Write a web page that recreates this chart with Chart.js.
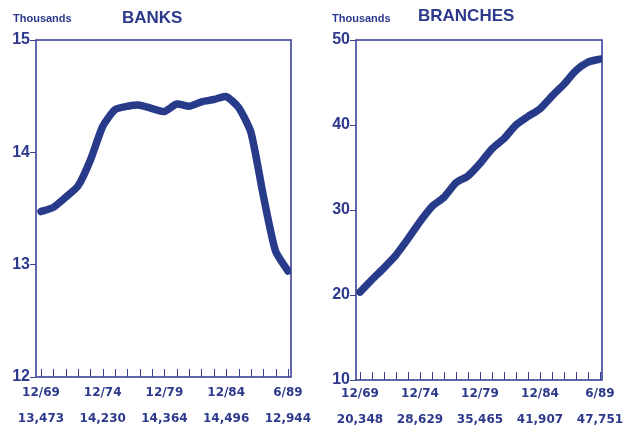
<!DOCTYPE html>
<html><head><meta charset="utf-8">
<script src="https://cdn.jsdelivr.net/npm/chart.js@4"></script>
<style>
html,body{margin:0;padding:0;background:#fff;width:623px;height:429px;overflow:hidden;}
.wrap{position:absolute;top:0;height:429px;}
#w1{left:0;width:311px;}
#w2{left:311px;width:312px;}
.lbl{position:absolute;font-family:"Liberation Sans",Arial,sans-serif;font-weight:bold;color:#2d3a8c;white-space:nowrap;line-height:1;}
</style></head><body>
<div class="wrap" id="w1"><canvas id="c1"></canvas></div>
<div class="wrap" id="w2"><canvas id="c2"></canvas></div>
<div class="lbl" style="left:13px;top:13px;font-size:11px;">Thousands</div>
<div class="lbl" style="left:122px;top:9px;font-size:17px;">BANKS</div>
<div class="lbl" style="left:332px;top:13px;font-size:11px;">Thousands</div>
<div class="lbl" style="left:418px;top:7px;font-size:17px;">BRANCHES</div>
<script>
const periods = ['12/69','12/70','12/71','12/72','12/73','12/74','12/75','12/76','12/77','12/78','12/79','12/80','12/81','12/82','12/83','12/84','12/85','12/86','12/87','12/88','6/89'];
const banks = [13.473, 13.51, 13.60, 13.70, 13.93, 14.23, 14.38, 14.41, 14.42, 14.39, 14.364, 14.43, 14.41, 14.45, 14.47, 14.496, 14.40, 14.18, 13.62, 13.12, 12.944];
const branches = [20.348, 21.8, 23.2, 24.7, 26.6, 28.629, 30.4, 31.5, 33.2, 34.0, 35.465, 37.2, 38.4, 40.0, 41.0, 41.907, 43.4, 44.8, 46.4, 47.4, 47.751];
const dateLabels = ['12/69','12/74','12/79','12/84','6/89'];
const labelIndex = [0,5,10,15,20];
const banksLabels = ['13,473','14,230','14,364','14,496','12,944'];
const branchesLabels = ['20,348','28,629','35,465','41,907','47,751'];

const NAVY = '#2d3a8c';
const FRAME = '#3b4296';
const FONT = '"Liberation Sans", Arial, sans-serif';
const XFONT = '"DejaVu Sans", "Liberation Sans", sans-serif';

const framePlugin = {
  id: 'frame',
  beforeDatasetsDraw(chart) {
    const {ctx, chartArea: a, scales: {x}} = chart;
    ctx.save();
    ctx.strokeStyle = FRAME;
    ctx.lineWidth = 1.6;
    ctx.strokeRect(a.left, a.top, a.right - a.left, a.bottom - a.top);
    ctx.beginPath();
    periods.forEach((p, i) => {
      const px = Math.round(x.getPixelForValue(i)) + 0.5;
      ctx.moveTo(px, a.bottom);
      ctx.lineTo(px, a.bottom - 8);
    });
    ctx.lineWidth = 1;
    ctx.stroke();
    ctx.restore();
  }
};

function makeChart(id, values, valueLabels, o) {
  const pts = values.map((v, i) => ({x: i, y: v}));
  return new Chart(document.getElementById(id), {
    type: 'line',
    data: {
      datasets: [
        {data: pts, borderColor: '#283a8a', borderWidth: 7.5, pointRadius: 0, tension: 0.2, borderJoinStyle: 'round', borderCapStyle: 'round'},
        {data: pts, borderColor: '#4a62b4', borderWidth: 2.5, pointRadius: 0, tension: 0.2, borderJoinStyle: 'round', borderCapStyle: 'round'}
      ]
    },
    options: {
      responsive: true,
      maintainAspectRatio: false,
      animation: false,
      layout: {padding: {top: 40, right: o.padRight, bottom: 0, left: 0}},
      plugins: {legend: {display: false}, tooltip: {enabled: false}},
      scales: {
        x: {
          type: 'linear', min: o.xmin, max: o.xmax,
          grid: {display: false, drawTicks: false},
          border: {display: false},
          afterBuildTicks: s => { s.ticks = labelIndex.map(v => ({value: v})); },
          afterFit: s => { s.height = o.xHeight; s.paddingLeft = 0; s.paddingRight = 0; },
          ticks: {
            autoSkip: false, maxRotation: 0, minRotation: 0,
            padding: o.xPad, color: NAVY,
            font: {family: XFONT, size: 12, weight: 'bold', lineHeight: '26px'},
            callback: v => { const k = labelIndex.indexOf(v); return k < 0 ? '' : [dateLabels[k], valueLabels[k]]; }
          }
        },
        y: {
          min: o.ymin, max: o.ymax,
          grid: {display: true, drawOnChartArea: false, drawTicks: true, tickLength: 6, color: FRAME, lineWidth: 1},
          border: {display: false},
          afterFit: s => { s.width = o.yWidth; s.paddingTop = 0; s.paddingBottom = 0; },
          ticks: {stepSize: o.step, padding: 0, color: NAVY, font: {family: FONT, size: 16, weight: 'bold'}}
        }
      }
    },
    plugins: [framePlugin]
  });
}

makeChart('c1', banks, banksLabels, {xmin: -0.4, xmax: 20.25, ymin: 12, ymax: 15, step: 1, yWidth: 36, padRight: 20, xHeight: 52, xPad: 3});
makeChart('c2', branches, branchesLabels, {xmin: -0.33, xmax: 20.17, ymin: 10, ymax: 50, step: 10, yWidth: 45, padRight: 21, xHeight: 49, xPad: 1});
</script>
</body></html>
